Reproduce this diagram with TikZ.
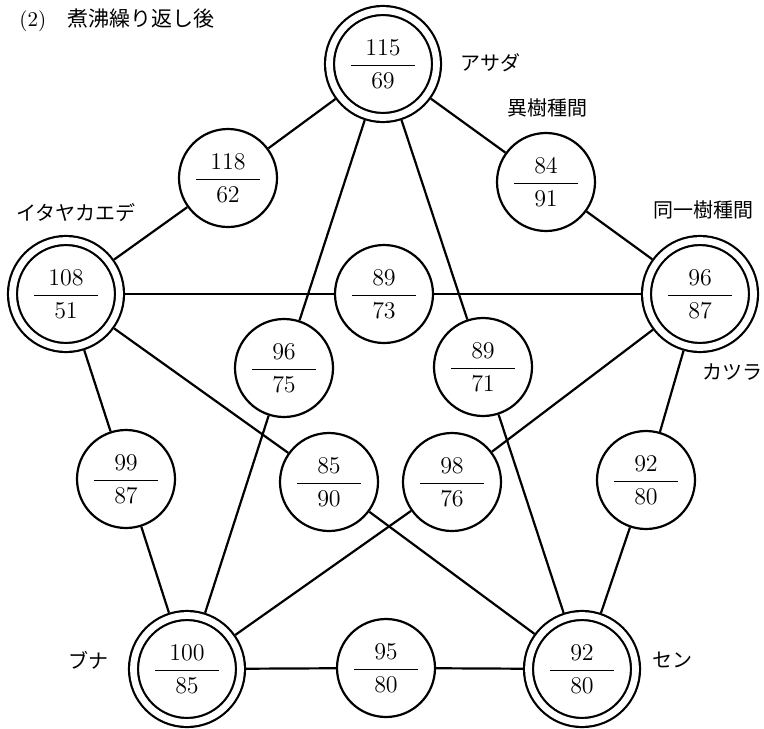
\documentclass[tikz,border=0pt]{standalone}
\usepackage{fontspec}
\newfontfamily\jp{Noto Sans CJK JP}
\usetikzlibrary{positioning}
\tikzset{
    val/.style={circle, draw, line width=1.1pt, minimum size=49pt, inner sep=0pt, font=\fontsize{13pt}{15pt}\selectfont},
    tree/.style={val, double, double distance=3.4pt, minimum size=53.5pt, outer sep=2.8pt},
    lbl/.style={font=\jp\fontsize{10pt}{12pt}\selectfont, inner sep=0pt},
    link/.style={line width=1.1pt}
}
\newcommand{\frc}[2]{$\displaystyle\frac{\makebox[32pt]{$#1$}}{#2}$}
\begin{document}
\begin{tikzpicture}[x=0.5pt, y=-0.5pt]
                        \useasboundingbox (0,0) rectangle (764,728);
                        \node[anchor=west, inner sep=0pt, font=\fontsize{10.5pt}{12pt}\selectfont] (title) at (19,20) {(2)\quad{\jp 煮沸繰り返し後}};

                        \node[tree] (asada) at (383,64) {\frc{115}{69}};
                        \node[tree] (itaya) at (66,294) {\frc{108}{51}};
                        \node[tree] (katsura) at (700,294) {\frc{96}{87}};
                        \node[tree] (buna) at (187,669) {\frc{100}{85}};
                        \node[tree] (sen) at (582,669) {\frc{92}{80}};

                        \node[val] (m11862) at (228,178) {\frc{118}{62}};
                        \node[val] (m8491) at (546,182) {\frc{84}{91}};
                        \node[val] (m8973) at (384,294) {\frc{89}{73}};
                        \node[val] (m9675) at (284,368) {\frc{96}{75}};
                        \node[val] (m8971) at (483,367) {\frc{89}{71}};
                        \node[val] (m9987) at (126,479) {\frc{99}{87}};
                        \node[val] (m8590) at (329,482) {\frc{85}{90}};
                        \node[val] (m9876) at (452,482) {\frc{98}{76}};
                        \node[val] (m9280) at (646,480) {\frc{92}{80}};
                        \node[val] (m9580) at (386,668) {\frc{95}{80}};

                        \node[lbl] (lasada) at (490,63) {アサダ};
                        \node[lbl] (lisyu) at (547,108) {異樹種間};
                        \node[lbl] (litaya) at (76,213) {イタヤカエデ};
                        \node[lbl] (ldoitsu) at (703,210) {同一樹種間};
                        \node[lbl] (lkatsura) at (732,372) {カツラ};
                        \node[lbl] (lbuna) at (88,660) {ブナ};
                        \node[lbl] (lsen) at (672,660) {セン};

                        \draw[link] (asada) -- (m11862) -- (itaya);
                        \draw[link] (asada) -- (m8491) -- (katsura);
                        \draw[link] (itaya) -- (m9987) -- (buna);
                        \draw[link] (katsura) -- (m9280) -- (sen);
                        \draw[link] (buna) -- (m9580) -- (sen);
                        \draw[link] (itaya) -- (m8973) -- (katsura);
                        \draw[link] (asada) -- (m9675) -- (buna);
                        \draw[link] (asada) -- (m8971) -- (sen);
                        \draw[link] (itaya) -- (m8590) -- (sen);
                        \draw[link] (katsura) -- (m9876) -- (buna);
                    \end{tikzpicture}
\end{document}
